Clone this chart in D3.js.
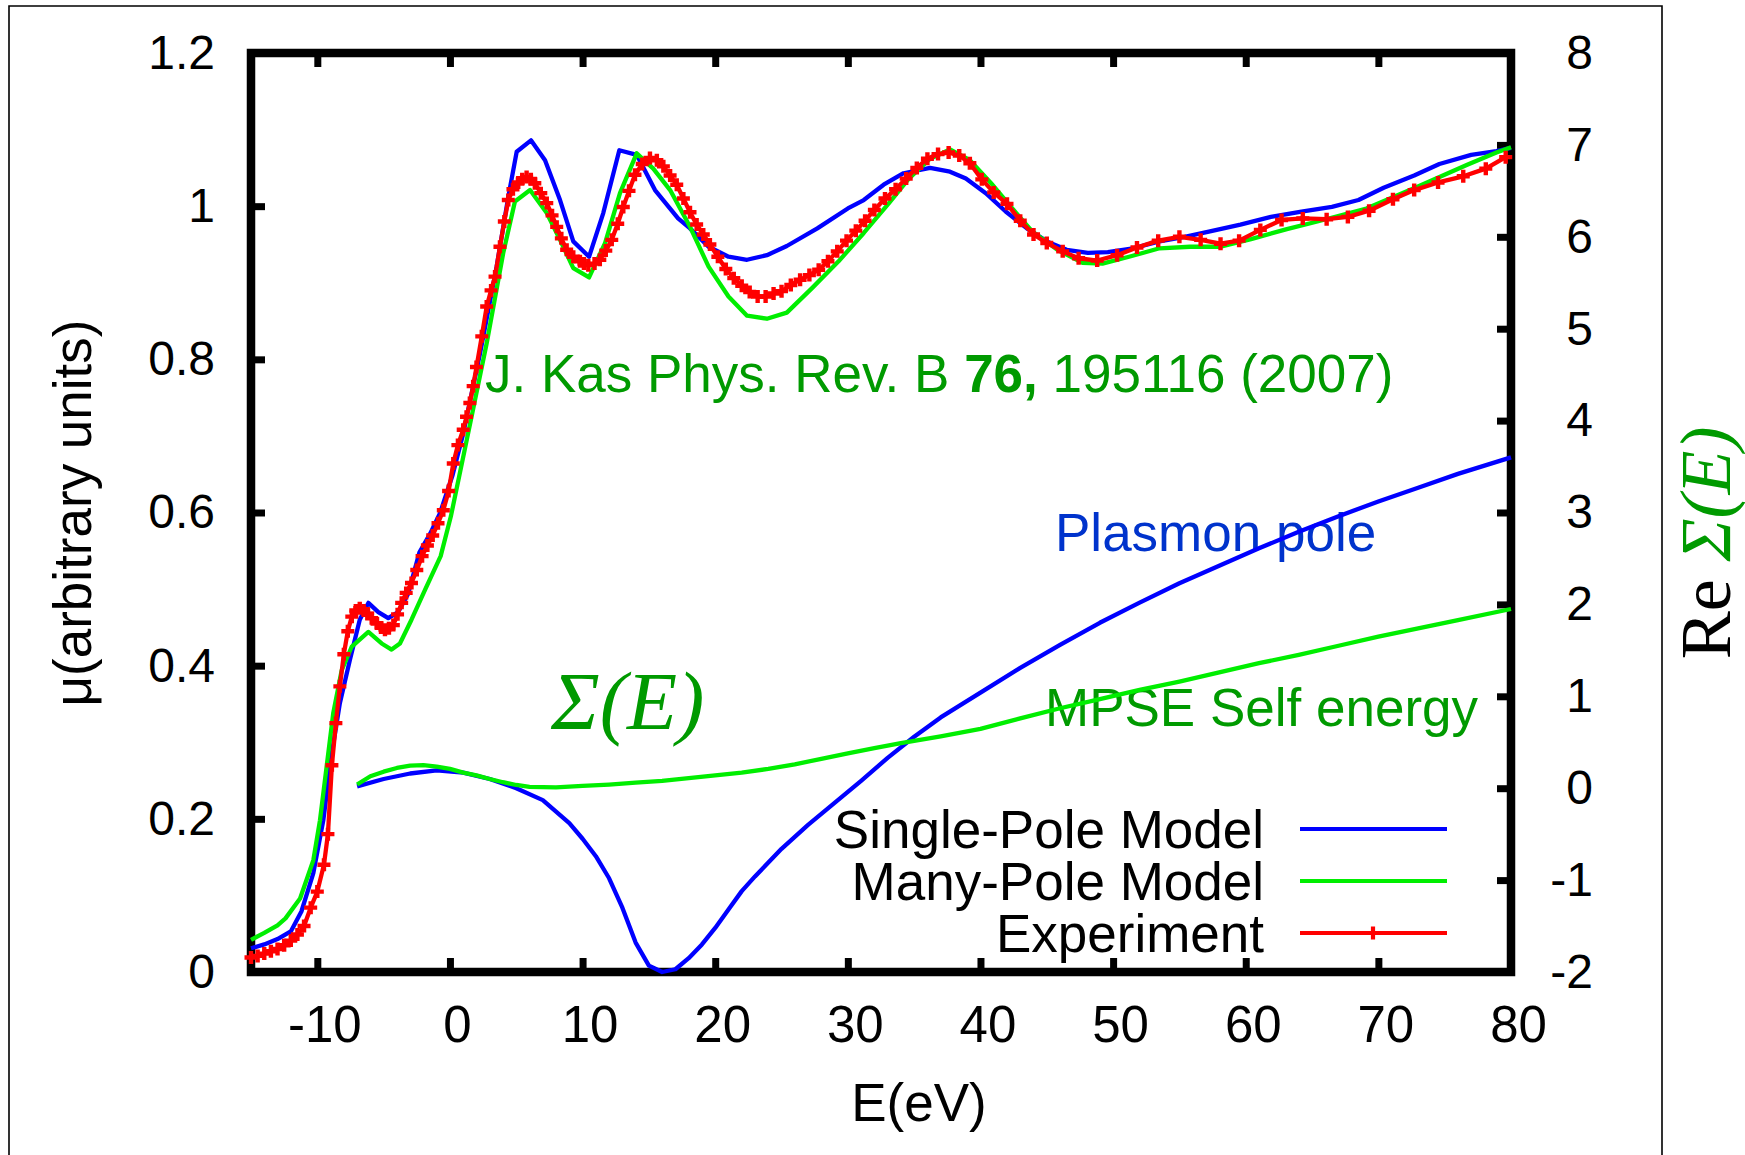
<!DOCTYPE html>
<html lang="en">
<head>
<meta charset="UTF-8">
<title>Self energy and absorption</title>
<script src="https://d3js.org/d3.v7.min.js"></script>
<style>
    * { margin: 0; padding: 0; box-sizing: border-box; }
    html, body { width: 100%; height: 100%; background: #fff; }
    svg { display: block; }
</style>
</head>
<body>
<svg id="chart" width="1745" height="1155"></svg>
<script>
    // Tick values
    const xTicks = [-10, 0, 10, 20, 30, 40, 50, 60, 70, 80];
    const yTicks = [0, 0.2, 0.4, 0.6, 0.8, 1, 1.2];
    const y2Ticks = [-2, -1, 0, 1, 2, 3, 4, 5, 6, 7, 8];

    // Single-Pole Model (blue, left axis)
    const singlePoleE = [-15, -14, -13, -12, -11.2, -10.3, -9.55, -8.9, -8.3, -7.55, -6.8, -6.15, -5.4, -4.65, -3.9,
        -3.15, -2.3, -1.5, -0.75, 0.2, 1.0, 2.27, 3.52, 4.4, 5.03, 6.11, 7.17, 8.3, 9.3, 10.49,
        11.56, 12.77, 14.08, 15.46, 17.2, 18.1, 19.5, 21.0, 22.4, 23.9, 25.4, 27.7, 30.0, 31.2, 32.7,
        34.2, 36.2, 37.7, 38.9, 40.4, 41.9, 43.5, 45.0, 46.5, 48.1, 49.6, 51.5, 53.5, 55.4, 57.3,
        59.6, 61.9, 64.2, 66.5, 68.5, 70.4, 72.7, 74.6, 77.0, 78.9, 80];
    const singlePoleMu = [0.031, 0.036, 0.043, 0.053, 0.079, 0.129, 0.198, 0.286, 0.351, 0.407, 0.460, 0.482, 0.470, 0.462, 0.470,
        0.494, 0.548, 0.572, 0.599, 0.649, 0.703, 0.808, 0.921, 1.012, 1.071, 1.086, 1.060, 1.008, 0.954, 0.934,
        0.991, 1.073, 1.067, 1.021, 0.984, 0.971, 0.947, 0.934, 0.930, 0.936, 0.948, 0.971, 0.997, 1.008, 1.028,
        1.043, 1.050, 1.045, 1.036, 1.017, 0.993, 0.971, 0.954, 0.943, 0.939, 0.940, 0.945, 0.954, 0.960, 0.967,
        0.976, 0.986, 0.993, 0.999, 1.008, 1.024, 1.040, 1.055, 1.067, 1.072, 1.076];

    // Many-Pole Model (green, left axis)
    const manyPoleE = [-15, -14, -13, -12.4, -11.3, -10.3, -9.8, -9.3, -8.8, -8.16, -7.4, -6.15, -5.15, -4.4, -3.77,
        -2.9, -1.88, -0.7, 0.07, 1.58, 2.77, 4.02, 4.9, 6.04, 7.3, 8.3, 9.3, 10.49, 11.7, 12.82,
        14.08, 15.33, 16.6, 18.1, 19.5, 21.0, 22.4, 23.9, 25.4, 27.3, 29.3, 31.2, 33.1, 34.6, 36.2,
        37.7, 39.2, 40.8, 42.3, 43.9, 45.8, 47.7, 49.2, 51.2, 53.5, 55.8, 58.1, 60.4, 63.1, 65.4,
        69.1, 72.9, 76.7, 78.9, 80];
    const manyPoleMu = [0.042, 0.051, 0.061, 0.070, 0.096, 0.146, 0.198, 0.268, 0.338, 0.394, 0.425, 0.444, 0.429, 0.421, 0.429,
        0.460, 0.499, 0.543, 0.595, 0.721, 0.821, 0.939, 1.006, 1.021, 0.991, 0.956, 0.919, 0.907, 0.952, 1.017,
        1.069, 1.049, 1.021, 0.973, 0.921, 0.882, 0.857, 0.853, 0.861, 0.893, 0.928, 0.965, 1.004, 1.036, 1.062,
        1.074, 1.060, 1.030, 0.999, 0.967, 0.943, 0.926, 0.925, 0.934, 0.945, 0.947, 0.947, 0.957, 0.970, 0.980,
        0.997, 1.025, 1.054, 1.070, 1.077];

    // Experiment (red with + markers, left axis)
    const expE = [-15, -14.5, -14, -13.5, -13, -12.5, -12, -11.5, -11, -10.5, -10, -9.5, -9.2, -8.9, -8.6,
        -8.3, -8, -7.7, -7.4, -7.1, -6.8, -6.5, -6.2, -5.9, -5.5, -5.2, -4.9, -4.6, -4.27, -3.95,
        -3.64, -3.3, -2.9, -2.5, -2.1, -1.7, -1.3, -0.9, -0.5, -0.1, 0.25, 0.6, 1.0, 1.25, 1.5,
        1.75, 2.0, 2.4, 2.77, 3.1, 3.4, 3.77, 4.1, 4.4, 4.75, 5.15, 5.45, 5.78, 6.1, 6.4,
        6.85, 7.3, 7.7, 8.05, 8.4, 8.8, 9.3, 9.8, 10.1, 10.43, 10.9, 11.3, 11.75, 12.2, 12.65,
        13.07, 13.5, 13.95, 14.5, 15.08, 15.6, 16.09, 16.6, 17.1, 17.6, 18.1, 18.6, 19.1, 19.6, 20.2,
        20.8, 21.4, 22, 22.6, 23.2, 23.8, 24.4, 25, 25.7, 26.4, 27.1, 27.8, 28.5, 29.2, 29.9,
        30.6, 31.3, 32, 32.8, 33.6, 34.4, 35.2, 36, 36.8, 37.6, 38.4, 39.2, 40.1, 41, 42,
        43, 44, 45, 46.2, 47.4, 48.8, 50.3, 51.8, 53.4, 55, 56.6, 58.1, 59.5, 61.1, 62.7,
        64.3, 66.1, 67.7, 69.3, 71.1, 72.7, 74.5, 76.4, 78.1, 79.6];
    const expMu = [0.019, 0.021, 0.024, 0.027, 0.030, 0.035, 0.041, 0.049, 0.060, 0.084, 0.105, 0.140, 0.180, 0.270, 0.325,
        0.373, 0.415, 0.445, 0.464, 0.472, 0.475, 0.472, 0.468, 0.462, 0.455, 0.450, 0.447, 0.449, 0.453, 0.467,
        0.482, 0.495, 0.508, 0.525, 0.543, 0.557, 0.570, 0.586, 0.603, 0.628, 0.664, 0.688, 0.708, 0.725, 0.743,
        0.765, 0.790, 0.830, 0.869, 0.890, 0.908, 0.947, 0.980, 1.008, 1.022, 1.031, 1.035, 1.038, 1.035, 1.030,
        1.017, 1.004, 0.988, 0.973, 0.958, 0.943, 0.934, 0.928, 0.925, 0.923, 0.925, 0.930, 0.942, 0.956, 0.977,
        0.999, 1.020, 1.041, 1.055, 1.063, 1.060, 1.052, 1.040, 1.028, 1.010, 0.992, 0.976, 0.963, 0.950, 0.934,
        0.918, 0.906, 0.896, 0.888, 0.882, 0.882, 0.886, 0.889, 0.897, 0.904, 0.910, 0.917, 0.928, 0.941, 0.955,
        0.968, 0.981, 0.995, 1.010, 1.022, 1.036, 1.050, 1.062, 1.068, 1.070, 1.066, 1.056, 1.035, 1.018, 1.003,
        0.981, 0.963, 0.952, 0.941, 0.932, 0.929, 0.936, 0.946, 0.955, 0.960, 0.956, 0.951, 0.955, 0.969, 0.982,
        0.984, 0.983, 0.986, 0.994, 1.009, 1.021, 1.031, 1.039, 1.049, 1.064];

    // Plasmon pole self energy (blue, right axis)
    const plasmonE = [-7, -5, -3, -1, 1, 3, 5, 7, 9, 10, 11, 12, 13, 14, 15,
        16, 17, 18, 19, 20, 21, 22, 23, 25, 27, 29, 31, 33, 35, 37,
        40, 43, 46, 49, 52, 55, 58, 61, 64, 67, 70, 73, 76, 80];
    const plasmonSigma = [0.02, 0.10, 0.16, 0.195, 0.17, 0.10, 0.00, -0.13, -0.38, -0.55, -0.74, -0.98, -1.30, -1.68, -1.93,
        -2.0, -1.97, -1.85, -1.70, -1.52, -1.32, -1.12, -0.96, -0.66, -0.40, -0.16, 0.08, 0.33, 0.56, 0.77,
        1.04, 1.31, 1.56, 1.80, 2.02, 2.23, 2.42, 2.61, 2.79, 2.96, 3.12, 3.27, 3.42, 3.60];

    // MPSE self energy (green, right axis)
    const mpseE = [-7, -6, -5, -4, -3, -2, -1, 0, 1, 2, 3, 4, 5, 6, 8,
        10, 12, 14, 16, 18, 20, 22, 24, 26, 28, 30, 32, 34, 37, 40,
        43, 46, 49, 52, 55, 58, 61, 64, 67, 70, 73, 76, 80];
    const mpseSigma = [0.04, 0.13, 0.18, 0.22, 0.245, 0.25, 0.235, 0.21, 0.17, 0.14, 0.10, 0.065, 0.035, 0.015, 0.01,
        0.025, 0.04, 0.06, 0.08, 0.11, 0.14, 0.17, 0.21, 0.26, 0.32, 0.38, 0.435, 0.49, 0.565, 0.645,
        0.76, 0.87, 0.97, 1.07, 1.16, 1.26, 1.36, 1.45, 1.55, 1.65, 1.74, 1.83, 1.95];

    const legendNames = ["Single-Pole Model", "Many-Pole Model", "Experiment"];
    const legendColors = ["#0000ff", "#00ee00", "#ff0000"];

    const SANS = '"Liberation Sans", Arial, Helvetica, sans-serif';
    const SERIF = '"Liberation Serif", "Times New Roman", serif';
    const W = 1745, H = 1155;
    const plot = { left: 251, right: 1511, top: 53, bottom: 972 };

    const svg = d3.select("#chart");

    const x = d3.scaleLinear().domain([-15, 80]).range([plot.left, plot.right]);
    const y = d3.scaleLinear().domain([0, 1.2]).range([plot.bottom, plot.top]);
    const y2 = d3.scaleLinear().domain([-2, 8]).range([plot.bottom, plot.top]);

    svg.append("rect").attr("width", W).attr("height", H).attr("fill", "#fff");

    // thin outer frame
    svg.append("path")
        .attr("d", `M9,${H} V6 H1662 V${H}`)
        .attr("fill", "none").attr("stroke", "#000").attr("stroke-width", 1.6);

    // axes
    function styleAxis(g, size) {
        g.select(".domain").remove();
        g.attr("font-family", SANS).attr("font-size", size);
        g.selectAll(".tick line").attr("stroke", "#000").attr("stroke-width", 7);
        g.selectAll(".tick text").attr("fill", "#000");
    }
    const fmt = d => String(d);

    svg.append("g").attr("transform", `translate(0,${plot.bottom})`)
        .call(d3.axisBottom(x).tickValues(xTicks).tickSize(-14).tickFormat(fmt))
        .call(g => styleAxis(g, 51))
        .call(g => g.selectAll(".tick text").attr("y", 70).attr("dy", null).attr("x", 7));

    svg.append("g").attr("transform", `translate(0,${plot.top})`)
        .call(d3.axisTop(x).tickValues(xTicks.slice(0, -1)).tickSize(-14).tickFormat(""))
        .call(g => styleAxis(g, 51));

    svg.append("g").attr("transform", `translate(${plot.left},0)`)
        .call(d3.axisLeft(y).tickValues(yTicks).tickSize(-14).tickPadding(36).tickFormat(fmt))
        .call(g => styleAxis(g, 48));

    svg.append("g").attr("transform", `translate(${plot.right},0)`)
        .call(d3.axisRight(y2).tickValues(y2Ticks).tickSize(-14).tickFormat(fmt))
        .call(g => styleAxis(g, 48))
        .call(g => g.selectAll(".tick text").attr("x", 82).attr("text-anchor", "end"));

    svg.append("rect")
        .attr("x", plot.left).attr("y", plot.top)
        .attr("width", plot.right - plot.left).attr("height", plot.bottom - plot.top)
        .attr("fill", "none").attr("stroke", "#000").attr("stroke-width", 8.5);

    // axis titles
    svg.append("text")
        .attr("x", 919).attr("y", 1121)
        .attr("text-anchor", "middle").attr("font-family", SANS).attr("font-size", 53)
        .text("E(eV)");

    svg.append("text")
        .attr("transform", "translate(91,513) rotate(-90)")
        .attr("text-anchor", "middle").attr("font-family", SANS).attr("font-size", 53)
        .text("\u03bc(arbitrary units)");

    const y2Title = svg.append("text")
        .attr("transform", "translate(1730,543) rotate(-90)")
        .attr("text-anchor", "middle").attr("font-family", SERIF).attr("font-size", 72);
    y2Title.append("tspan").attr("fill", "#000").text("Re ");
    y2Title.append("tspan").attr("fill", "#009a00").attr("font-style", "italic").text("\u03a3(E)");

    // annotations
    const ref = svg.append("text")
        .attr("x", 485).attr("y", 392)
        .attr("font-family", SANS).attr("font-size", 53).attr("fill", "#009a00");
    ref.append("tspan").text("J. Kas Phys. Rev. B ");
    ref.append("tspan").attr("font-weight", "bold").text("76,");
    ref.append("tspan").text(" 195116 (2007)");

    svg.append("text")
        .attr("x", 1055).attr("y", 551)
        .attr("font-family", SANS).attr("font-size", 53).attr("fill", "#0033cc")
        .text("Plasmon pole");

    svg.append("text")
        .attr("x", 1045).attr("y", 726)
        .attr("font-family", SANS).attr("font-size", 53).attr("fill", "#009a00")
        .text("MPSE Self energy");

    svg.append("text")
        .attr("x", 551).attr("y", 729)
        .attr("font-family", SERIF).attr("font-style", "italic").attr("font-size", 82).attr("fill", "#009a00")
        .text("\u03a3(E)");

    // legend
    const plus = "M-6.5,0H6.5M0,-6.5V6.5";
    const legend = svg.append("g");
    legendNames.forEach((name, i) => {
        const ly = 829 + i * 52;
        legend.append("text")
            .attr("x", 1264).attr("y", ly + 19)
            .attr("text-anchor", "end").attr("font-family", SANS).attr("font-size", 53)
            .text(name);
        legend.append("line")
            .attr("x1", 1300).attr("x2", 1447).attr("y1", ly).attr("y2", ly)
            .attr("stroke", legendColors[i]).attr("stroke-width", 4.2);
        if (i === 2) {
            legend.append("path")
                .attr("transform", `translate(1373,${ly})`)
                .attr("d", plus).attr("stroke", legendColors[i]).attr("stroke-width", 4.2);
        }
    });

    // curves
    function drawSeries(es, vs, yScale, color) {
        svg.append("path")
            .datum(d3.zip(es, vs))
            .attr("d", d3.line().x(d => x(d[0])).y(d => yScale(d[1])))
            .attr("fill", "none")
            .attr("stroke", color)
            .attr("stroke-width", 4.3)
            .attr("stroke-linejoin", "round");
    }

    drawSeries(plasmonE, plasmonSigma, y2, "#0000ff");
    drawSeries(mpseE, mpseSigma, y2, "#00ee00");
    drawSeries(singlePoleE, singlePoleMu, y, "#0000ff");
    drawSeries(manyPoleE, manyPoleMu, y, "#00ee00");
    drawSeries(expE, expMu, y, "#ff0000");

    svg.append("g").selectAll("path")
        .data(d3.zip(expE, expMu))
        .join("path")
        .attr("transform", d => `translate(${x(d[0])},${y(d[1])})`)
        .attr("d", plus)
        .attr("stroke", "#ff0000")
        .attr("stroke-width", 4.4);
</script>
</body>
</html>
